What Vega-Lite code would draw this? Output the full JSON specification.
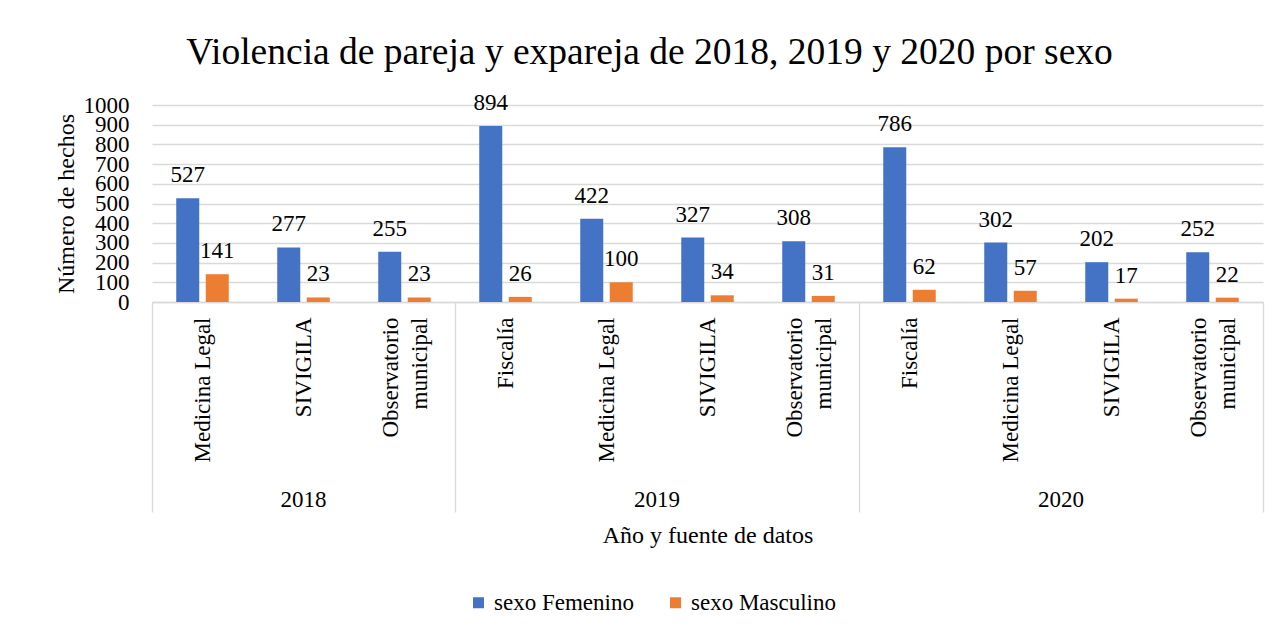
{
  "$schema": "https://vega.github.io/schema/vega-lite/v6.json",
  "background": "white",
  "padding": {"left": 54, "top": 34, "right": 10, "bottom": 5},
  "width": 1111,
  "height": 197,
  "title": {"text": "Violencia de pareja y expareja de 2018, 2019 y 2020 por sexo", "font": "Times New Roman, Liberation Serif, serif", "fontSize": 37.5, "fontWeight": "normal", "color": "black", "anchor": "middle", "frame": "group", "offset": 20, "dx": -58},
  "data": {"values": [
    {"anio": "2018", "fuente": "Medicina Legal", "sexo": "sexo Femenino", "valor": 527},
    {"anio": "2018", "fuente": "Medicina Legal", "sexo": "sexo Masculino", "valor": 141},
    {"anio": "2018", "fuente": "SIVIGILA", "sexo": "sexo Femenino", "valor": 277},
    {"anio": "2018", "fuente": "SIVIGILA", "sexo": "sexo Masculino", "valor": 23},
    {"anio": "2018", "fuente": "Observatorio municipal", "sexo": "sexo Femenino", "valor": 255},
    {"anio": "2018", "fuente": "Observatorio municipal", "sexo": "sexo Masculino", "valor": 23},
    {"anio": "2019", "fuente": "Fiscalía", "sexo": "sexo Femenino", "valor": 894},
    {"anio": "2019", "fuente": "Fiscalía", "sexo": "sexo Masculino", "valor": 26},
    {"anio": "2019", "fuente": "Medicina Legal", "sexo": "sexo Femenino", "valor": 422},
    {"anio": "2019", "fuente": "Medicina Legal", "sexo": "sexo Masculino", "valor": 100},
    {"anio": "2019", "fuente": "SIVIGILA", "sexo": "sexo Femenino", "valor": 327},
    {"anio": "2019", "fuente": "SIVIGILA", "sexo": "sexo Masculino", "valor": 34},
    {"anio": "2019", "fuente": "Observatorio municipal", "sexo": "sexo Femenino", "valor": 308},
    {"anio": "2019", "fuente": "Observatorio municipal", "sexo": "sexo Masculino", "valor": 31},
    {"anio": "2020", "fuente": "Fiscalía", "sexo": "sexo Femenino", "valor": 786},
    {"anio": "2020", "fuente": "Fiscalía", "sexo": "sexo Masculino", "valor": 62},
    {"anio": "2020", "fuente": "Medicina Legal", "sexo": "sexo Femenino", "valor": 302},
    {"anio": "2020", "fuente": "Medicina Legal", "sexo": "sexo Masculino", "valor": 57},
    {"anio": "2020", "fuente": "SIVIGILA", "sexo": "sexo Femenino", "valor": 202},
    {"anio": "2020", "fuente": "SIVIGILA", "sexo": "sexo Masculino", "valor": 17},
    {"anio": "2020", "fuente": "Observatorio municipal", "sexo": "sexo Femenino", "valor": 252},
    {"anio": "2020", "fuente": "Observatorio municipal", "sexo": "sexo Masculino", "valor": 22}
  ]},
  "transform": [{"calculate": "datum.anio + '|' + datum.fuente", "as": "clave"}],
  "encoding": {
    "xOffset": {"field": "sexo", "type": "nominal", "scale": {"paddingInner": 0.22, "paddingOuter": 0.822}},
    "y": {
      "field": "valor", "type": "quantitative",
      "scale": {"domain": [0, 1000]},
      "axis": {
        "title": "Número de hechos", "values": [0, 100, 200, 300, 400, 500, 600, 700, 800, 900, 1000], "format": "d",
        "domain": false, "ticks": false, "labelPadding": 23, "labelOverlap": false,
        "labelFont": "Times New Roman, Liberation Serif, serif", "labelFontSize": 23, "labelColor": "black",
        "gridColor": "#d9d9d9", "gridWidth": 1.3,
        "titleFont": "Times New Roman, Liberation Serif, serif", "titleFontSize": 24, "titleFontWeight": "normal", "titleColor": "black", "titlePadding": 5
      }
    }
  },
  "layer": [
    {
      "mark": {"type": "bar"},
      "encoding": {
        "x": {
          "field": "clave", "type": "nominal", "sort": null,
          "scale": {"paddingInner": 0, "paddingOuter": 0},
          "axis": {
            "orient": "bottom", "title": null, "labelAngle": -90, "labelAlign": "right", "labelBaseline": "middle", "labelPadding": 15,
            "labelFont": "Times New Roman, Liberation Serif, serif", "labelFontSize": 23, "labelColor": "black", "labelLimit": 0, "labelLineHeight": 29, "labelOverlap": false,
            "labelExpr": "split(datum.value, '|')[1] == 'Observatorio municipal' ? ['Observatorio', 'municipal'] : split(datum.value, '|')[1]",
            "labelOffset": {"condition": {"test": "isString(datum.value) && indexof(datum.value, 'Observatorio') >= 0", "value": -14}, "value": 0},
            "domainColor": "#d9d9d9", "domainWidth": 1.3, "ticks": false
          }
        },
        "color": {
          "field": "sexo", "type": "nominal",
          "scale": {"domain": ["sexo Femenino", "sexo Masculino"], "range": ["#4472C4", "#ED7D31"]},
          "legend": {
            "orient": "none", "legendX": 315, "legendY": 486, "direction": "horizontal", "title": null, "symbolType": "square", "symbolSize": 121,
            "symbolStrokeWidth": 0, "labelFont": "Times New Roman, Liberation Serif, serif", "labelFontSize": 23, "labelColor": "black", "columnPadding": 30, "labelOffset": 4, "padding": 0
          }
        }
      }
    },
    {
      "mark": {"type": "text", "baseline": "alphabetic", "dy": -16, "font": "Times New Roman, Liberation Serif, serif", "fontSize": 23, "color": "black"},
      "encoding": {
        "x": {
          "field": "clave", "type": "nominal", "sort": null,
          "scale": {"paddingInner": 0, "paddingOuter": 0},
          "axis": {
            "orient": "bottom", "domain": false,
            "ticks": true, "bandPosition": 1, "tickExtra": true, "tickSize": 210, "tickColor": "#d9d9d9", "tickWidth": 1.3,
            "tickOpacity": {"condition": {"test": "datum.index < 0 || (isString(datum.value) && indexof(datum.value, 'Observatorio') >= 0)", "value": 1}, "value": 0},
            "labelExpr": "isString(datum.value) && indexof(datum.value, 'SIVIGILA') >= 0 ? split(datum.value, '|')[0] : ''",
            "labelAngle": 0, "labelAlign": "center", "labelBaseline": "middle", "labelPadding": -13, "labelOverlap": false,
            "labelOffset": {"condition": {"test": "datum.value == '2018|SIVIGILA'", "value": 0}, "value": -50.5},
            "labelFont": "Times New Roman, Liberation Serif, serif", "labelFontSize": 23, "labelColor": "black",
            "title": "Año y fuente de datos", "titleFont": "Times New Roman, Liberation Serif, serif", "titleFontSize": 24, "titleFontWeight": "normal", "titleColor": "black", "titlePadding": 21
          }
        },
        "text": {"field": "valor", "type": "quantitative"}
      }
    }
  ],
  "resolve": {"axis": {"x": "independent"}},
  "config": {"view": {"stroke": null}, "font": "Times New Roman, Liberation Serif, serif"}
}
